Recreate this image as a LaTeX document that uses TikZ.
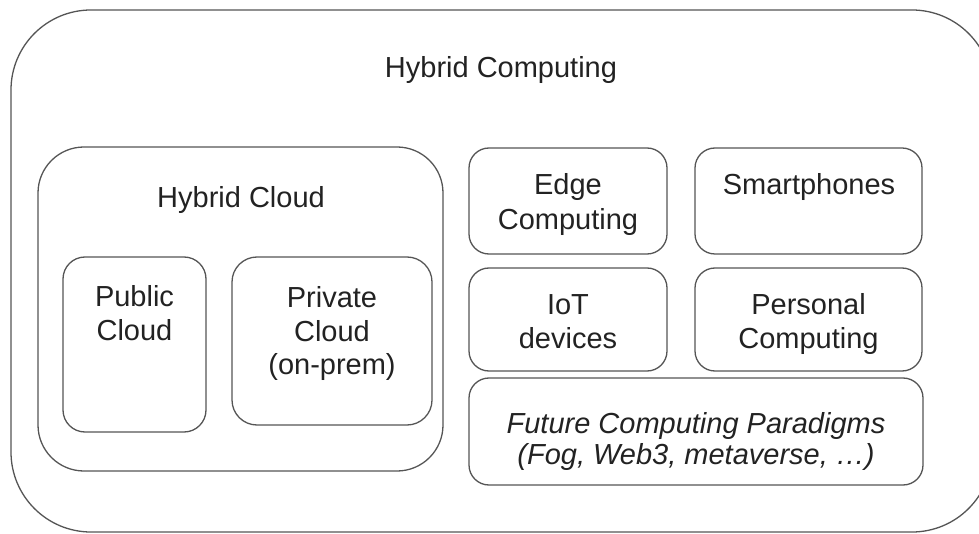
\documentclass[tikz,border=0pt]{standalone}
\usepackage{fontspec}
\setmainfont{Liberation Sans}
\definecolor{linec}{RGB}{85,85,85}
\definecolor{textc}{RGB}{34,34,34}
\newcommand{\mlines}[1]{\begin{tabular}[t]{@{}c@{}}#1\end{tabular}}
\begin{document}
\begin{tikzpicture}[x=1pt,y=-1pt,
  box/.style={draw=linec, line width=1.3pt, rectangle, inner sep=0pt, outer sep=0pt},
  lbl/.style={anchor=base, inner sep=0pt, text=textc, font=\fontsize{29}{35}\selectfont},
  ilbl/.style={lbl, font=\fontsize{29}{31}\selectfont\itshape}]
\useasboundingbox (0,0) rectangle (979,534);
\clip (0,0) rectangle (979,534);
% boxes
\node[box, rounded corners=80pt, minimum width=981pt, minimum height=522pt] (outer) at (501.5,271) {};
\node[box, rounded corners=46pt, minimum width=405pt, minimum height=324pt] (hcloud) at (240.5,309) {};
\node[box, rounded corners=22pt, minimum width=143pt, minimum height=175pt] (public) at (134.5,344.5) {};
\node[box, rounded corners=25pt, minimum width=200pt, minimum height=168pt] (private) at (332,341) {};
\node[box, rounded corners=20pt, minimum width=198pt, minimum height=106pt] (edge) at (568,201) {};
\node[box, rounded corners=20pt, minimum width=227pt, minimum height=106pt] (smart) at (808.5,201) {};
\node[box, rounded corners=20pt, minimum width=198pt, minimum height=103pt] (iot) at (568,319.5) {};
\node[box, rounded corners=20pt, minimum width=227pt, minimum height=103pt] (personal) at (808.5,319.5) {};
\node[box, rounded corners=20pt, minimum width=454pt, minimum height=107pt] (future) at (696,431.5) {};
% labels
\node[lbl] (outer-t) at (501,78) {Hybrid Computing};
\node[lbl] (hcloud-t) at (241,208) {Hybrid Cloud};
\node[lbl, font=\fontsize{29}{34}\selectfont] (public-t) at (134.5,307) {\mlines{Public\\Cloud}};
\node[lbl, font=\fontsize{29}{33.5}\selectfont] (private-t) at (332,308) {\mlines{Private\\Cloud\\(on-prem)}};
\node[lbl] (edge-t) at (568,195) {\mlines{Edge\\Computing}};
\node[lbl] (smart-t) at (809,195) {Smartphones};
\node[lbl, font=\fontsize{29}{34}\selectfont] (iot-t) at (568,315) {\mlines{IoT\\devices}};
\node[lbl, font=\fontsize{29}{34}\selectfont] (personal-t) at (808.5,315) {\mlines{Personal\\Computing}};
\node[ilbl] (future-t) at (696,433) {\mlines{Future Computing Paradigms\\(Fog, Web3, metaverse, …)}};
\end{tikzpicture}
\end{document}
